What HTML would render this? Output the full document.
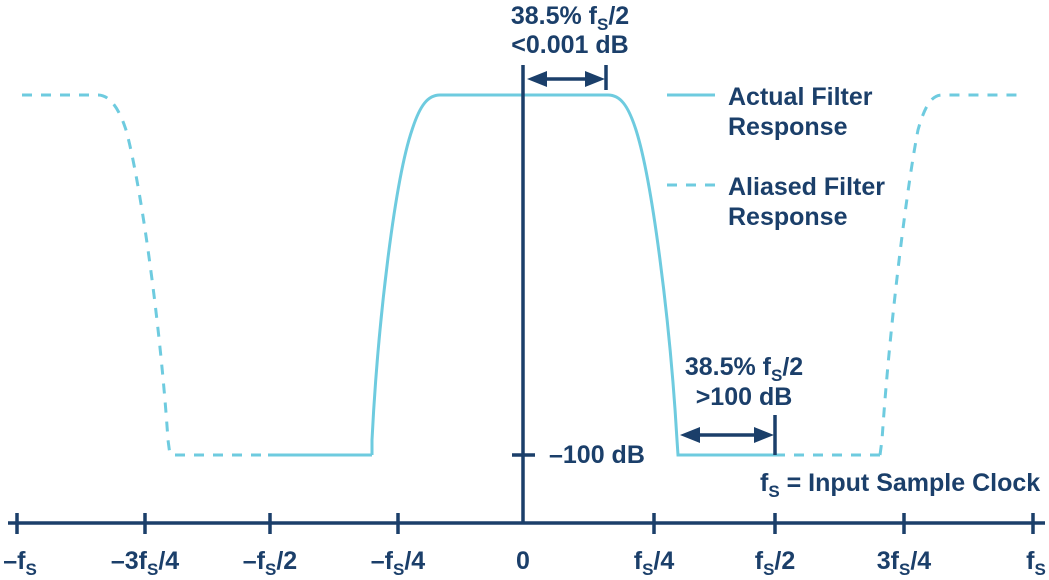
<!DOCTYPE html>
<html><head><style>
body{margin:0;background:#fff}
svg text{font-family:"Liberation Sans",Arial,sans-serif;font-weight:bold;fill:#1b3f6a;font-size:25px}
</style></head><body>
<svg width="1049" height="575" viewBox="0 0 1049 575">
<g fill="none" stroke="#6ecbdf" stroke-width="3">
<path d="M372,455 L372,440 C378,320 395,180 412,130 C420,105 428,95 440,95 L608,95 C620,95 628,105 636,130 C652,180 670,320 677,440 L678,455 L775,455"/>
<path d="M268,455 L372,455"/>
<path stroke-dasharray="10,9" d="M175,455 L268,455"/>
<path stroke-dasharray="10,9" d="M775,455 L882,455"/>
<path stroke-dasharray="10,9" d="M22,95 L98,95 C108,95 118,105 126,130 C140,180 160,320 168,440 L170,455"/>
<path stroke-dasharray="10,9" d="M880,455 L882,440 C890,320 908,180 918,130 C925,105 932,95 942,95 L1025,95"/>
<path d="M667,95 L715,95"/>
<path stroke-dasharray="10,9" d="M667,185 L715,185"/>
</g>
<g stroke="#1b3f6a" stroke-width="3.5" fill="none">
<path d="M8,523 L1045,523"/>
<path d="M523,65 L523,523"/>
<path d="M17,513V534M145,513V534M270,513V534M398,513V534M654,513V534M775,513V534M904,513V534M1033,513V534"/>
<path d="M512,455H535"/>
<path d="M606,65V90"/>
<path d="M540,79H592"/>
<path d="M775,415V455"/>
<path d="M692,435H762"/>
</g>
<g fill="#1b3f6a">
<path d="M527,79 L547,71 L547,87Z"/>
<path d="M605,79 L585,71 L585,87Z"/>
<path d="M680,435 L700,427 L700,443Z"/>
<path d="M774,435 L754,427 L754,443Z"/>
</g>
<text x="570" y="24" text-anchor="middle">38.5% f<tspan font-size="17" dy="6">S</tspan><tspan dy="-6">/2</tspan></text>
<text x="570" y="53" text-anchor="middle">&lt;0.001 dB</text>
<text x="728" y="105">Actual Filter</text>
<text x="728" y="135">Response</text>
<text x="728" y="195">Aliased Filter</text>
<text x="728" y="225">Response</text>
<text x="744" y="375" text-anchor="middle">38.5% f<tspan font-size="17" dy="6">S</tspan><tspan dy="-6">/2</tspan></text>
<text x="744" y="405" text-anchor="middle">&gt;100 dB</text>
<text x="549" y="463">–100 dB</text>
<text x="760" y="491">f<tspan font-size="17" dy="6">S</tspan><tspan dy="-6"> = Input Sample Clock</tspan></text>
<g text-anchor="middle">
<text x="20" y="569">–f<tspan font-size="17" dy="6">S</tspan></text>
<text x="145" y="569">–3f<tspan font-size="17" dy="6">S</tspan><tspan dy="-6">/4</tspan></text>
<text x="270" y="569">–f<tspan font-size="17" dy="6">S</tspan><tspan dy="-6">/2</tspan></text>
<text x="398" y="569">–f<tspan font-size="17" dy="6">S</tspan><tspan dy="-6">/4</tspan></text>
<text x="523" y="569">0</text>
<text x="654" y="569">f<tspan font-size="17" dy="6">S</tspan><tspan dy="-6">/4</tspan></text>
<text x="775" y="569">f<tspan font-size="17" dy="6">S</tspan><tspan dy="-6">/2</tspan></text>
<text x="904" y="569">3f<tspan font-size="17" dy="6">S</tspan><tspan dy="-6">/4</tspan></text>
<text x="1036" y="569">f<tspan font-size="17" dy="6">S</tspan></text>
</g>
</svg>
</body></html>
